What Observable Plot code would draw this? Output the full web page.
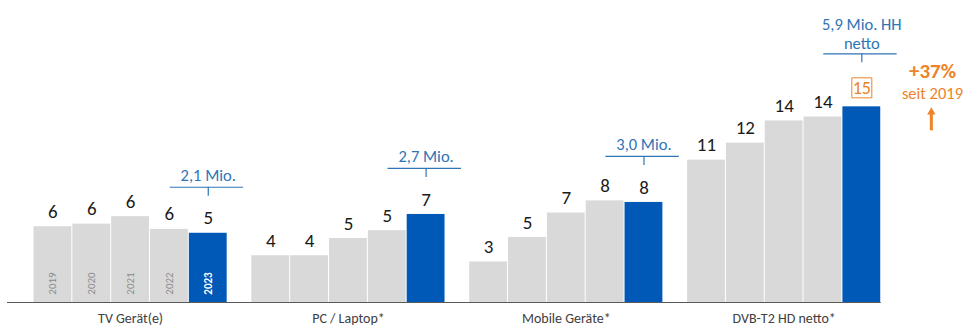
<!DOCTYPE html>
<html>
<head>
<meta charset="utf-8">
<script src="https://cdn.jsdelivr.net/npm/d3@7"></script>
<script src="https://cdn.jsdelivr.net/npm/@observablehq/plot@0.6"></script>
<style>
  html, body { margin: 0; padding: 0; background: #fff; }
  #chart svg { display: block; }
</style>
</head>
<body>
<div id="chart"></div>
<script>
// ---- data ----
const groups = ["TV Gerät(e)", "PC / Laptop*", "Mobile Geräte*", "DVB-T2 HD netto*"];
const years = ["2019", "2020", "2021", "2022", "2023"];
const tvValues     = [5.8, 6.0, 6.57, 5.6, 5.3];
const pcValues     = [3.58, 3.58, 4.9, 5.5, 6.74];
const mobileValues = [3.1, 4.98, 6.85, 7.78, 7.66];
const dvbValues    = [10.9, 12.2, 13.9, 14.2, 14.98];
const tvLabels     = ["6", "6", "6", "6", "5"];
const pcLabels     = ["4", "4", "5", "5", "7"];
const mobileLabels = ["3", "5", "7", "8", "8"];
const dvbLabels    = ["11", "12", "14", "14", "15"];
const annotations  = ["2,1 Mio.", "2,7 Mio.", "3,0 Mio.", "5,9 Mio. HH\nnetto"];
const growthLabels = ["+37%", "seit 2019"];

// ---- layout / style ----
const W = 965, H = 327, MB = 25;
const yMax = 23.12;
const pxPerUnit = (H - MB) / yMax;
const STEP = 5.61;             // group spacing in bar-width units
const BLUE = "#0058B7", GRAY = "#D9D9D9", ANN = "#2E75B6", ORANGE = "#EE8329";
const FONT = "Calibri, Carlito, Lato, 'Open Sans', sans-serif";

const valueSets = [tvValues, pcValues, mobileValues, dvbValues];
const labelSets = [tvLabels, pcLabels, mobileLabels, dvbLabels];

const rows = [];
groups.forEach((grp, g) => {
  years.forEach((yr, i) => {
    rows.push({g, i, group: grp, year: yr, v: valueSets[g][i], label: labelSets[g][i], pos: g * STEP + i});
  });
});
const latest = rows.filter(d => d.i === 4);
const lastBar = latest[latest.length - 1];
const groupRows = groups.map((grp, g) => ({group: grp, center: g * STEP + 2.5}));
const annRows = latest.map((d, k) => ({...d, text: annotations[k], off: d.g === 3 ? 53 : 46, toff: d.g === 3 ? 20.5 : 12.7}));

const marks = [
  // baseline
  Plot.ruleY([0], {x1: -0.67, x2: lastBar.pos + 1, stroke: "#595959", strokeWidth: 1.2}),
  // bars
  Plot.rect(rows.filter(d => d.i < 4), {x1: "pos", x2: d => d.pos + 1, y1: 0, y2: "v", fill: GRAY, insetLeft: 0.5, insetRight: 0.5}),
  Plot.rect(latest, {x1: "pos", x2: d => d.pos + 1, y1: 0, y2: "v", fill: BLUE, insetLeft: 0.5, insetRight: 0.5}),
  // value labels
  Plot.text(rows.filter(d => !(d.g === 3 && d.i === 4)), {x: d => d.pos + 0.5, y: "v", text: "label", dy: -15, fontSize: 19, fill: "#1a1a1a", fontFamily: FONT}),
  // boxed latest DVB value
  Plot.dot([lastBar], {x: d => d.pos + 0.5, y: "v", dy: -19, symbol: "square", r: 11.28, fill: "white", stroke: ORANGE, strokeWidth: 1}),
  Plot.text([lastBar], {x: d => d.pos + 0.5, y: "v", text: "label", dy: -18.5, fontSize: 18, fill: ORANGE, fontFamily: FONT}),
  // year labels inside TV bars
  Plot.text(rows.filter(d => d.g === 0 && d.i < 4), {x: d => d.pos + 0.5, y: 0, text: "year", dy: -19, rotate: -90, fontSize: 11, fill: "#8c8c8c", fontFamily: FONT}),
  Plot.text(rows.filter(d => d.g === 0 && d.i === 4), {x: d => d.pos + 0.5, y: 0, text: "year", dy: -19, rotate: -90, fontSize: 11, fontWeight: "bold", fill: "white", fontFamily: FONT}),
  // annotation brackets
  ...annRows.map(d => Plot.ruleY([d], {y: "v", x1: d.pos + 0.5 - 0.98, x2: d.pos + 0.5 + 0.91, dy: -d.off, stroke: ANN, strokeWidth: 1.2})),
  ...annRows.map(d => Plot.ruleX([d], {x: d.pos + 0.5, y1: "v", y2: e => e.v + 9 / pxPerUnit, dy: -d.off + 9, stroke: ANN, strokeWidth: 1.2})),
  ...annRows.map(d => Plot.text([d], {x: d.pos + 0.5, y: "v", text: "text", dy: -d.off - d.toff, lineAnchor: "middle", lineHeight: 1.15, fontSize: 16.5, fill: ANN, fontFamily: FONT})),
  // group labels
  Plot.text(groupRows, {x: "center", y: 0, text: "group", dy: 16, fontSize: 14, fill: "#404040", fontFamily: FONT}),
  // growth annotation
  Plot.text([growthLabels[0]], {x: lastBar.pos + 0.5 + 1.82, y: lastBar.v, text: d => d, dy: -36, fontSize: 21, fontWeight: "bold", fill: ORANGE, fontFamily: FONT}),
  Plot.text([growthLabels[1]], {x: lastBar.pos + 0.5 + 1.82, y: lastBar.v, text: d => d, dy: -13.5, fontSize: 16.5, fill: ORANGE, fontFamily: FONT}),
  Plot.ruleX([lastBar], {x: d => d.pos + 0.5 + 1.79, y1: d => d.v - 24 / pxPerUnit, y2: d => d.v - 7 / pxPerUnit, stroke: ORANGE, strokeWidth: 3}),
  Plot.dot([lastBar], {x: d => d.pos + 0.5 + 1.79, y: d => d.v - 5.3 / pxPerUnit, symbol: "triangle", r: 3.1, fill: ORANGE, stroke: "none"})
];

const chart = Plot.plot({
  width: W,
  height: H,
  marginLeft: 0,
  marginRight: 0,
  marginTop: 0,
  marginBottom: MB,
  x: {domain: [-0.85, 24], axis: null},
  y: {domain: [0, yMax], axis: null},
  style: {fontFamily: FONT, background: "white", overflow: "visible"},
  marks
});
document.getElementById("chart").append(chart);
</script>
</body>
</html>
